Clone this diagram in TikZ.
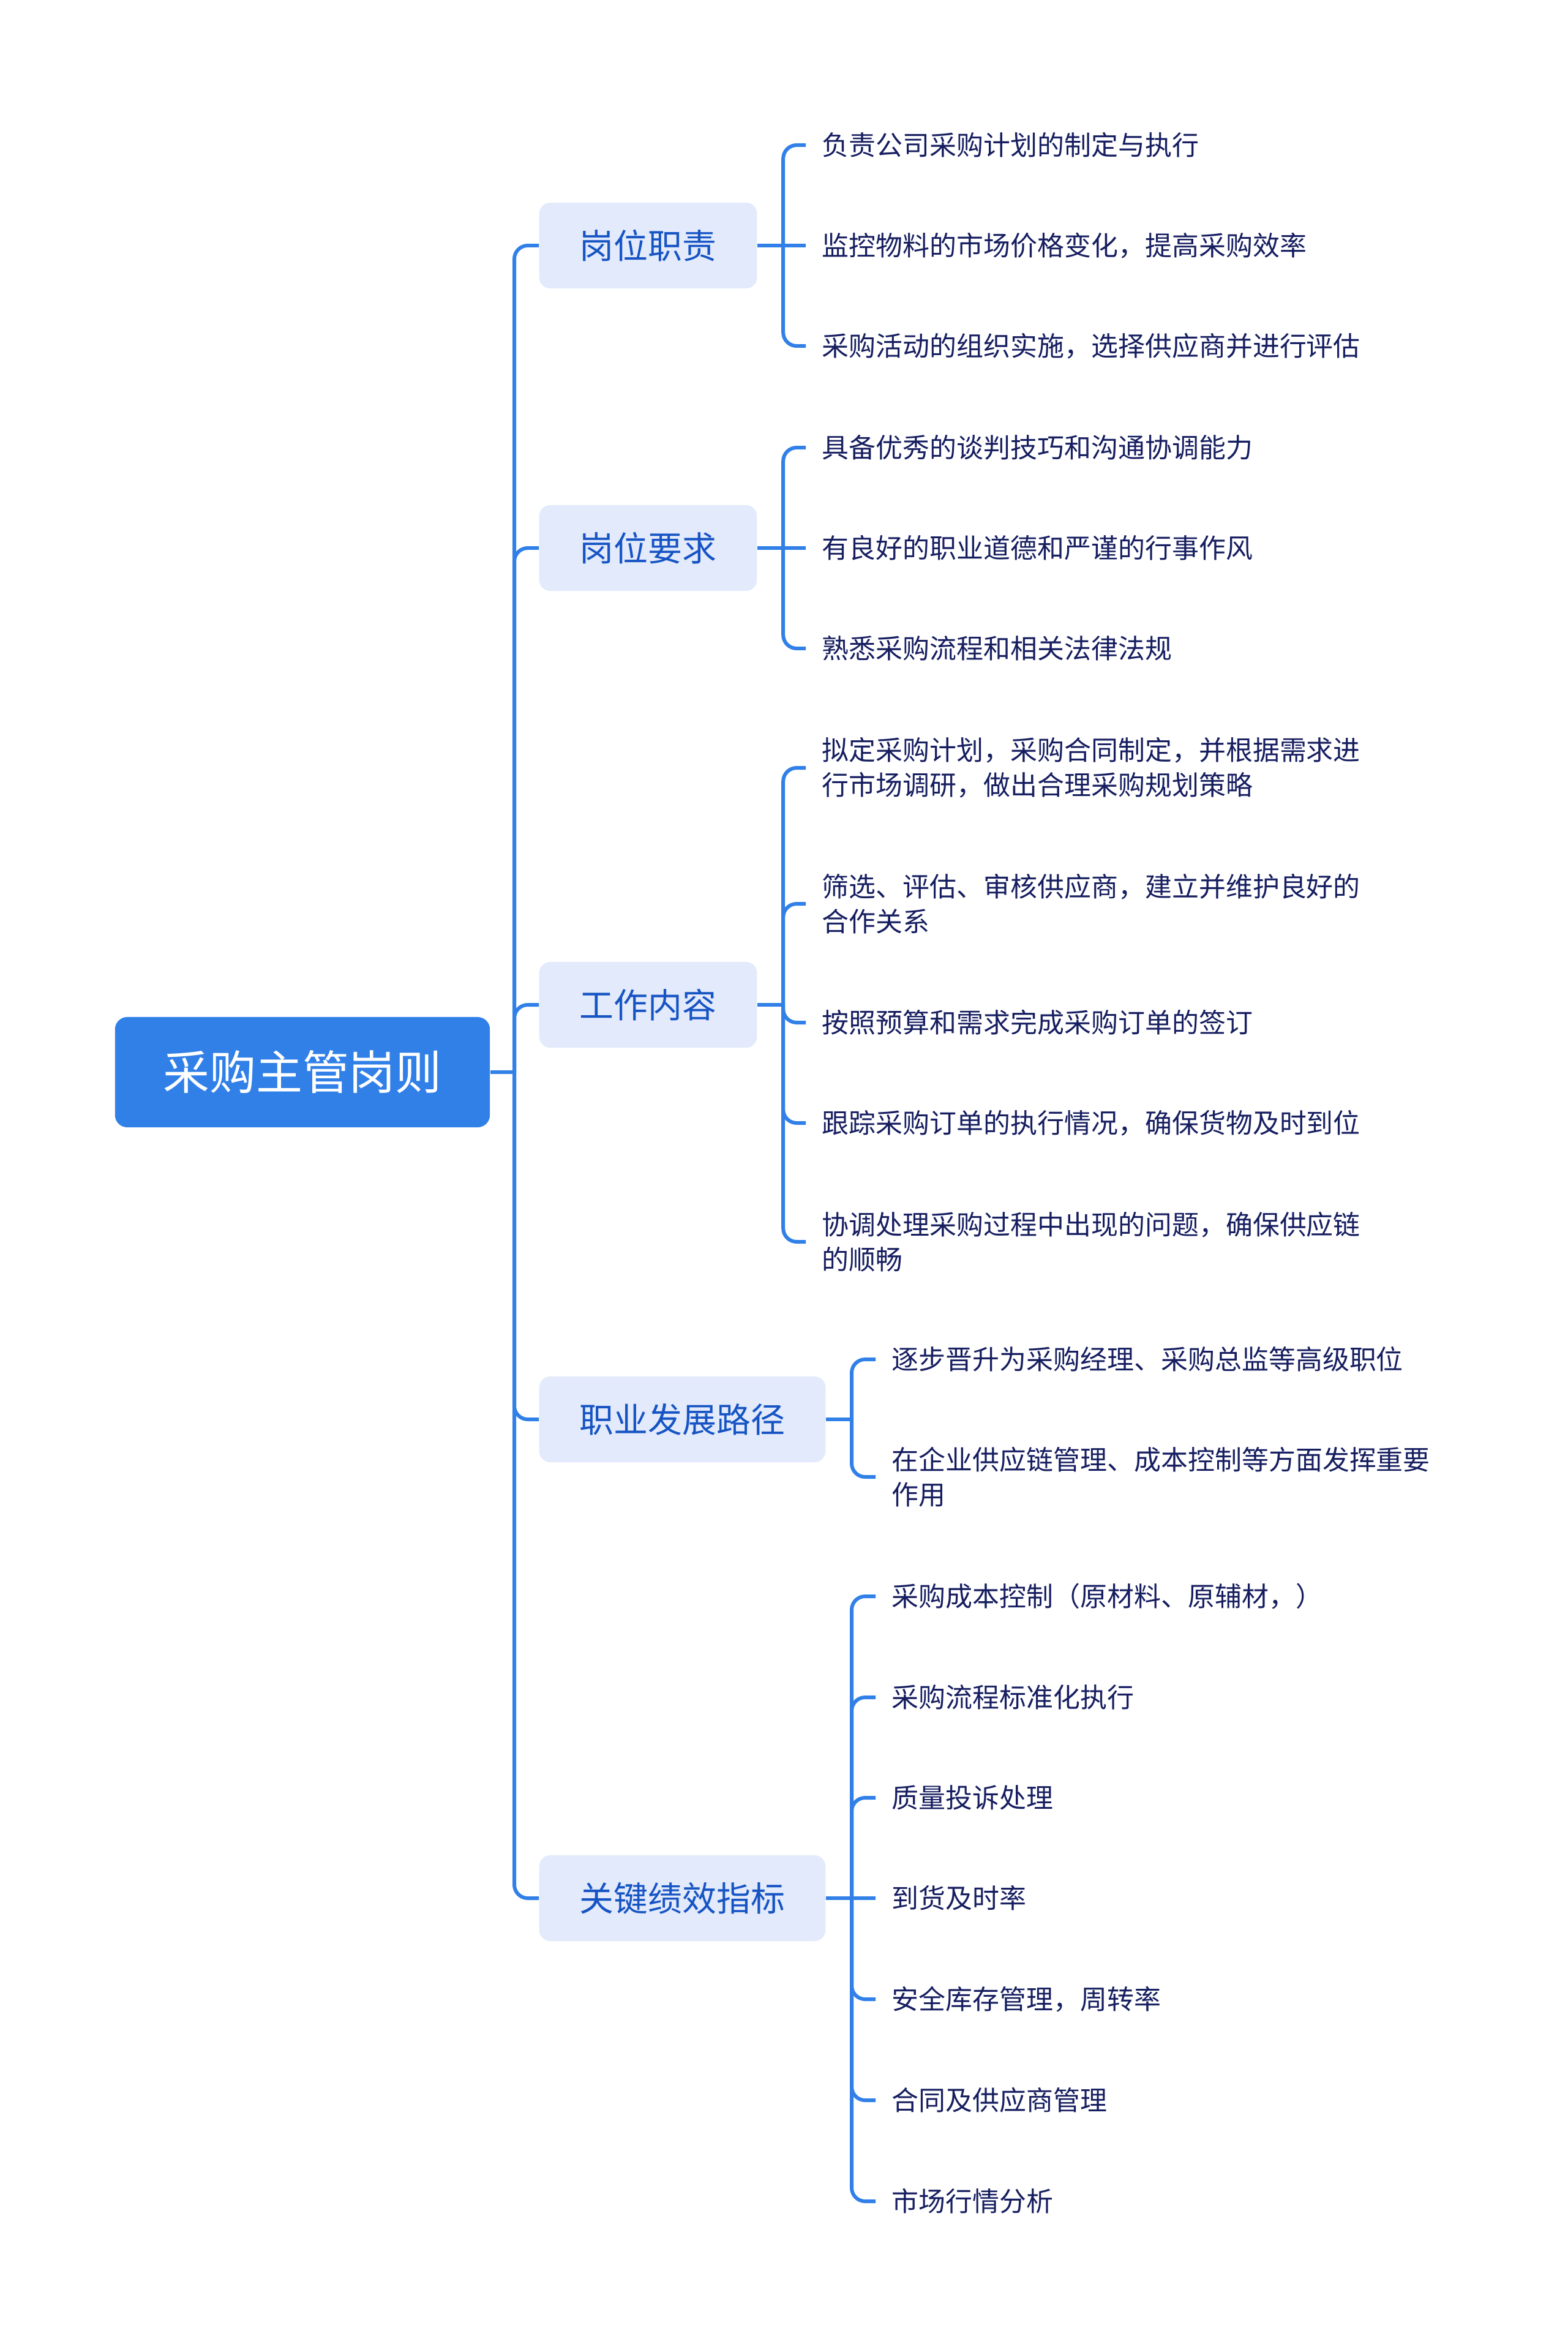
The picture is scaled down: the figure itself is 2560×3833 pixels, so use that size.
\documentclass[tikz,border=0pt]{standalone}
\usepackage{fontspec}
\setmainfont{Noto Sans CJK SC}
\usetikzlibrary{positioning}

\definecolor{rootblue}{RGB}{49,128,232}
\definecolor{topicfill}{RGB}{226,234,251}
\definecolor{topictext}{RGB}{22,84,196}
\definecolor{leaftext}{RGB}{22,30,96}

\begin{document}
\begin{tikzpicture}[
  x=0.01cm, y=-0.01cm,
  rootbox/.style  = {rectangle, rounded corners=0.2cm,
                     fill=rootblue, text=white,
                     font=\fontsize{21.6}{26}\selectfont,
                     minimum width=6.12cm, minimum height=1.8cm,
                     inner sep=0pt},
  topicbox/.style = {rectangle, rounded corners=0.18cm,
                     fill=topicfill, text=topictext,
                     font=\fontsize{15.9}{19}\selectfont,
                     minimum height=1.4cm, inner xsep=0.66cm,
                     inner ysep=0pt, anchor=west},
  leaf/.style     = {anchor=west, inner xsep=0.26cm, inner ysep=0pt,
                     text=leaftext, align=left,
                     font=\fontsize{12.5}{16.2}\selectfont},
  link/.style     = {rootblue, line width=1.7pt, rounded corners=0.22cm},
]
\useasboundingbox (0,0) rectangle (2560,3833);

%% ── Root ──────────────────────────────────────────────────────────────────
\node[rootbox] at (494, 1751) (root) {采购主管岗则};
\coordinate (trunk) at (840, 1751);

%% ── Main topics ───────────────────────────────────────────────────────────
\node[topicbox] at (880, 401)  (duty)   {岗位职责};
\node[topicbox] at (880, 895)  (req)    {岗位要求};
\node[topicbox] at (880, 1641) (work)   {工作内容};
\node[topicbox] at (880, 2318) (career) {职业发展路径};
\node[topicbox] at (880, 3100) (kpi)    {关键绩效指标};

%% ── Leaves: 岗位职责 ─────────────────────────────────────────────────────
\node[leaf] at (1316, 237) (duty1) {负责公司采购计划的制定与执行};
\node[leaf] at (1316, 401) (duty2) {监控物料的市场价格变化，提高采购效率};
\node[leaf] at (1316, 565) (duty3) {采购活动的组织实施，选择供应商并进行评估};

%% ── Leaves: 岗位要求 ─────────────────────────────────────────────────────
\node[leaf] at (1316, 731)  (req1) {具备优秀的谈判技巧和沟通协调能力};
\node[leaf] at (1316, 895)  (req2) {有良好的职业道德和严谨的行事作风};
\node[leaf] at (1316, 1059) (req3) {熟悉采购流程和相关法律法规};

%% ── Leaves: 工作内容 ─────────────────────────────────────────────────────
\node[leaf] at (1316, 1254) (work1) {拟定采购计划，采购合同制定，并根据需求进\\行市场调研，做出合理采购规划策略};
\node[leaf] at (1316, 1476) (work2) {筛选、评估、审核供应商，建立并维护良好的\\合作关系};
\node[leaf] at (1316, 1670) (work3) {按照预算和需求完成采购订单的签订};
\node[leaf] at (1316, 1834) (work4) {跟踪采购订单的执行情况，确保货物及时到位};
\node[leaf] at (1316, 2028) (work5) {协调处理采购过程中出现的问题，确保供应链\\的顺畅};

%% ── Leaves: 职业发展路径 ─────────────────────────────────────────────────
\node[leaf] at (1430, 2220) (career1) {逐步晋升为采购经理、采购总监等高级职位};
\node[leaf] at (1430, 2412) (career2) {在企业供应链管理、成本控制等方面发挥重要\\作用};

%% ── Leaves: 关键绩效指标 ─────────────────────────────────────────────────
\node[leaf] at (1430, 2607) (kpi1) {采购成本控制（原材料、原辅材，）};
\node[leaf] at (1430, 2772) (kpi2) {采购流程标准化执行};
\node[leaf] at (1430, 2936) (kpi3) {质量投诉处理};
\node[leaf] at (1430, 3100) (kpi4) {到货及时率};
\node[leaf] at (1430, 3265) (kpi5) {安全库存管理，周转率};
\node[leaf] at (1430, 3430) (kpi6) {合同及供应商管理};
\node[leaf] at (1430, 3595) (kpi7) {市场行情分析};

%% ── Trunk: root to topics ────────────────────────────────────────────────
\draw[link] (root) -- (trunk);
\foreach \t in {duty, req, work, career, kpi}
  \draw[link] (trunk) |- (\t.west);

%% ── Forks: topics to leaves ──────────────────────────────────────────────
\coordinate[right=0.42cm of duty]   (dutyfork);
\coordinate[right=0.42cm of req]    (reqfork);
\coordinate[right=0.42cm of work]   (workfork);
\coordinate[right=0.42cm of career] (careerfork);
\coordinate[right=0.42cm of kpi]    (kpifork);

\draw[link] (duty) -- (duty2);
\foreach \l in {duty1, duty3}
  \draw[link] (dutyfork) |- (\l.west);

\draw[link] (req) -- (req2);
\foreach \l in {req1, req3}
  \draw[link] (reqfork) |- (\l.west);

\draw[link] (work) -- (workfork);
\foreach \l in {work1, work2, work3, work4, work5}
  \draw[link] (workfork) |- (\l.west);

\draw[link] (career) -- (careerfork);
\foreach \l in {career1, career2}
  \draw[link] (careerfork) |- (\l.west);

\draw[link] (kpi) -- (kpi4);
\foreach \l in {kpi1, kpi2, kpi3, kpi5, kpi6, kpi7}
  \draw[link] (kpifork) |- (\l.west);

\end{tikzpicture}
\end{document}
